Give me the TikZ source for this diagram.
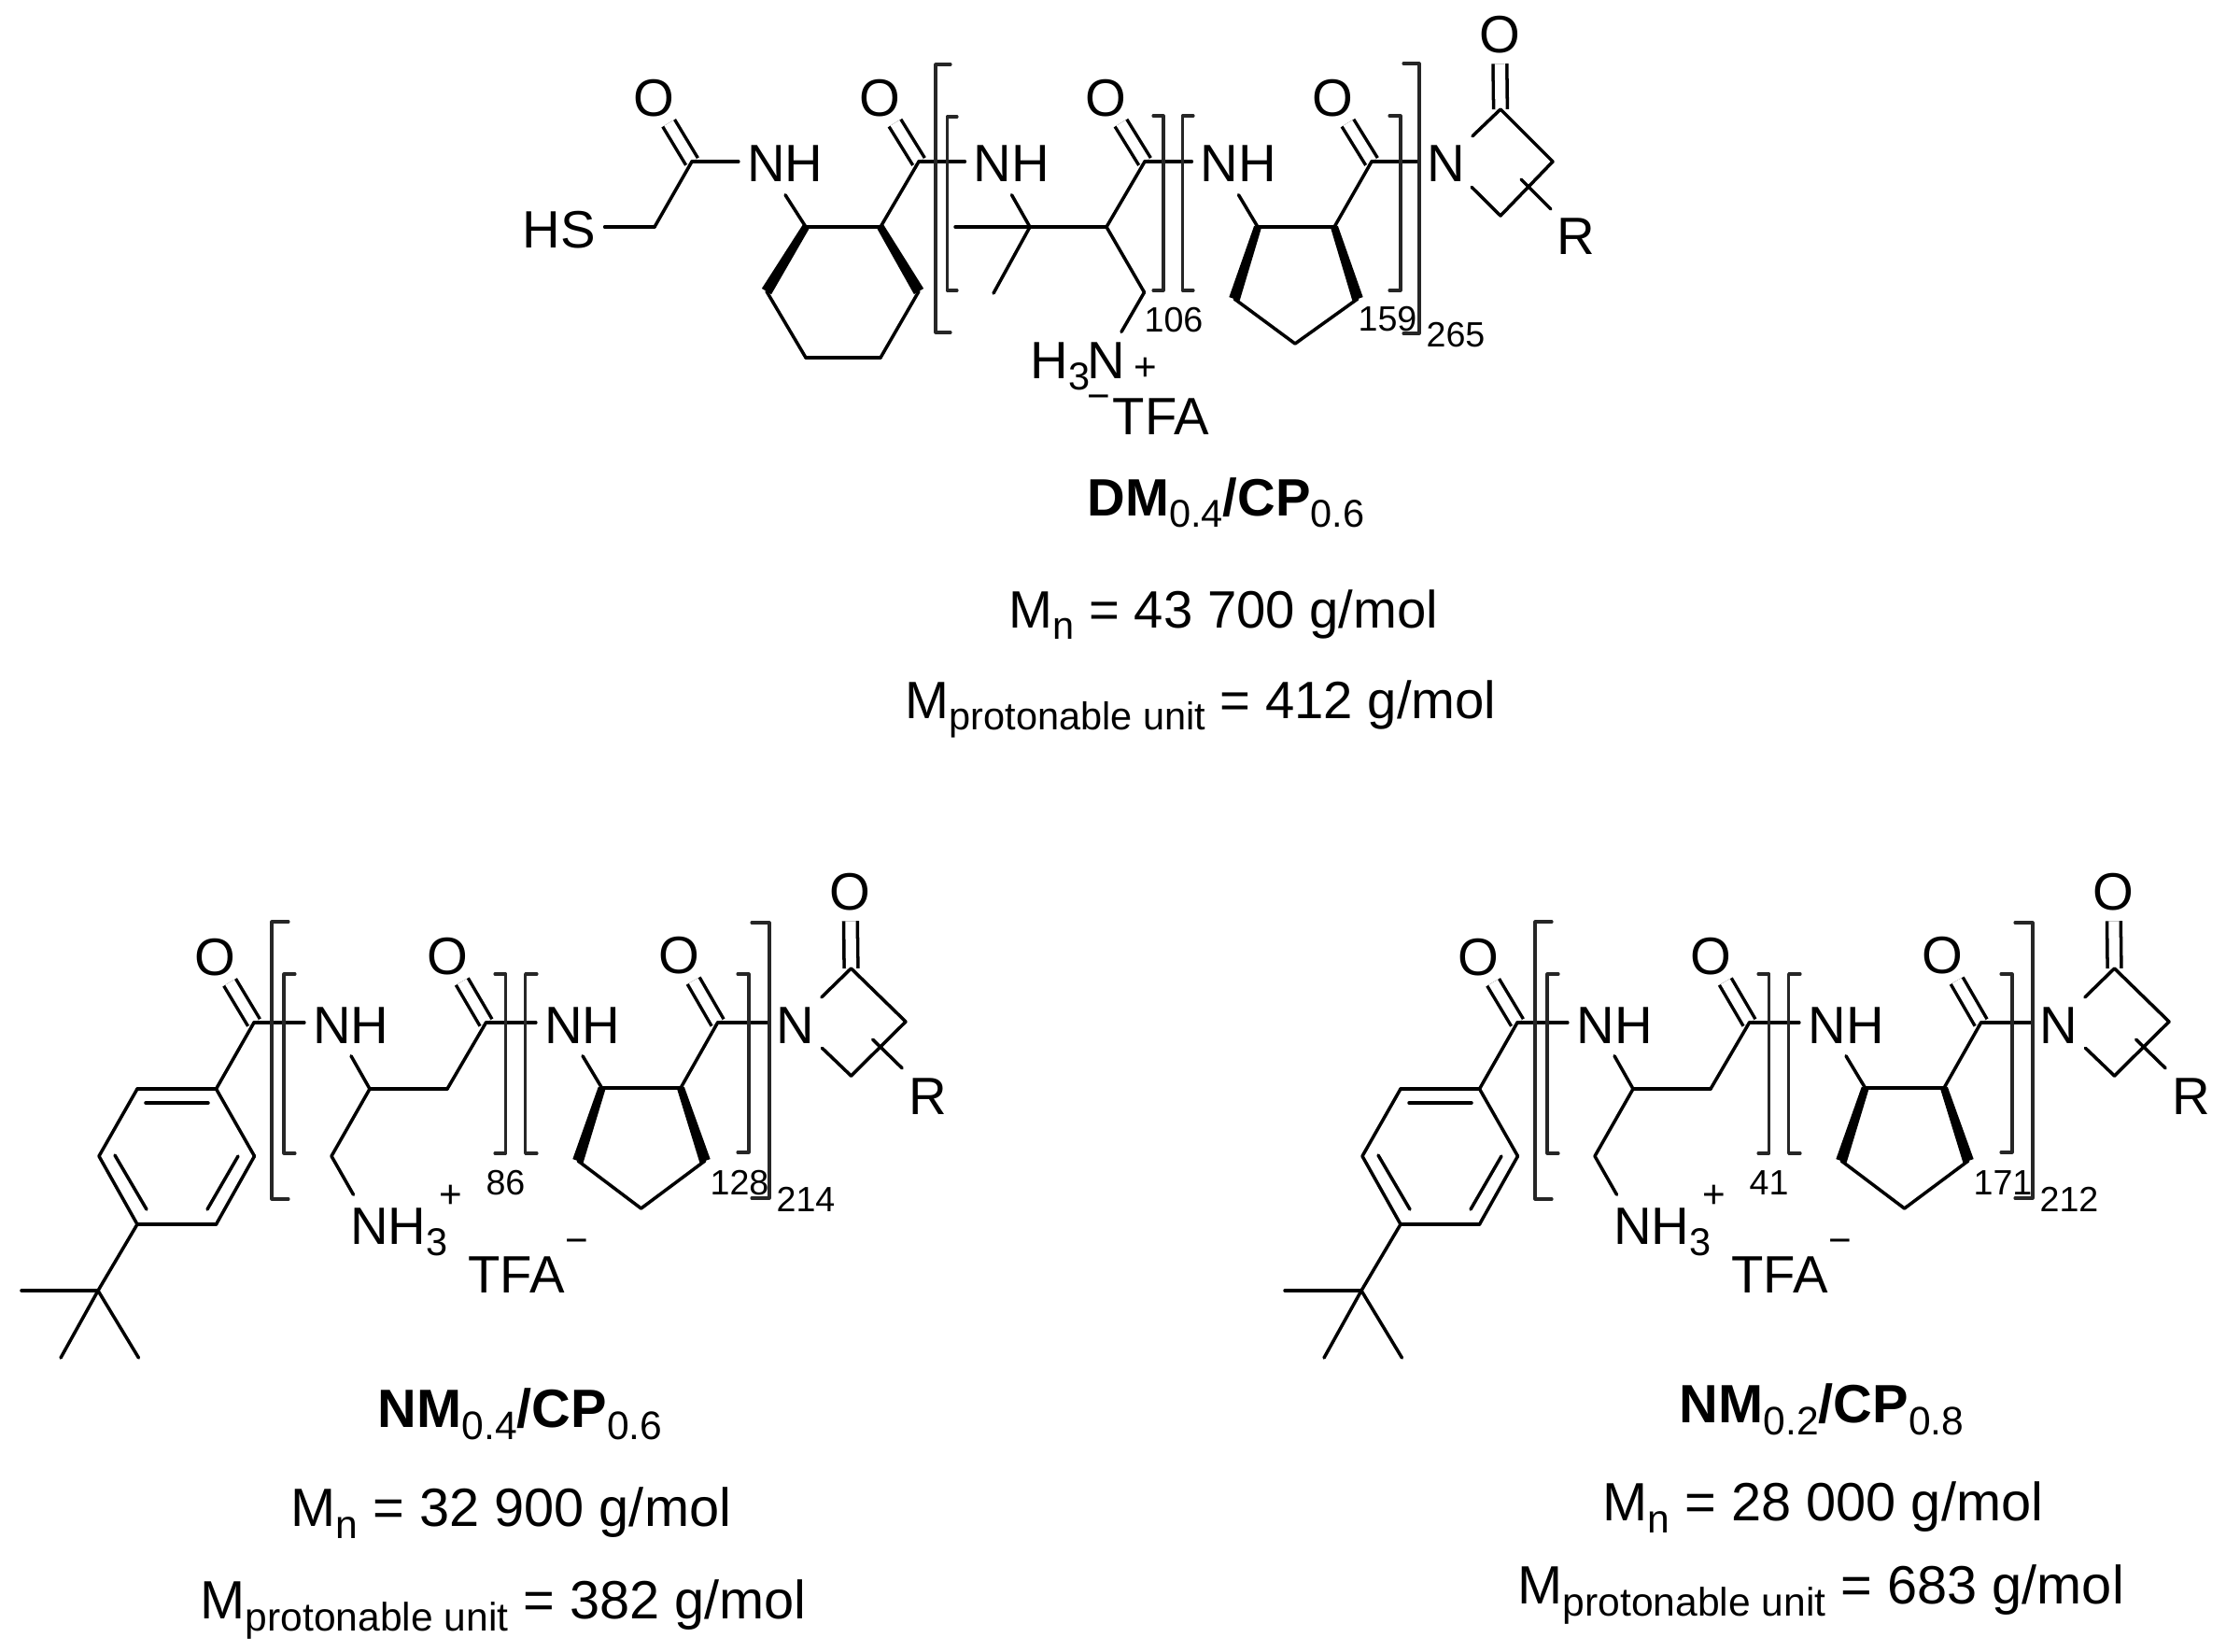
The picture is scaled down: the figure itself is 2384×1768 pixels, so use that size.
\documentclass[tikz,border=0pt]{standalone}
\usepackage{fontspec}
\usetikzlibrary{calc}
\setmainfont{Liberation Sans}
\newcommand{\lowsub}[1]{\raisebox{-3.6pt}{\fontsize{11.8pt}{12pt}\selectfont #1}}
\newcommand{\wedgebond}[2]{\fill ($(#1)!1.15pt!90:(#2)$) -- ($(#1)!1.15pt!-90:(#2)$) -- ($(#2)!1.7pt!90:(#1)$) -- ($(#2)!1.7pt!-90:(#1)$) -- cycle;}
\tikzset{
	atom/.style={font=\fontsize{16pt}{18pt}\selectfont,text height=12.5pt,text depth=0pt,inner xsep=2.2pt,inner ysep=3.4pt},
	ion/.style={atom,inner ysep=2pt},
	oxy/.style={font=\fontsize{16pt}{18pt}\selectfont,circle,minimum size=16.8pt,inner sep=0pt},
	atomtext/.style={font=\fontsize{16pt}{18pt}\selectfont,inner sep=0pt,anchor=base},
	num/.style={font=\fontsize{10.7pt}{12pt}\selectfont,inner sep=0pt},
	charge/.style={font=\fontsize{12pt}{12pt}\selectfont,inner sep=0pt},
	capline/.style={font=\fontsize{16pt}{18pt}\selectfont,inner sep=0pt,anchor=base west},
	capwide/.style={capline,scale=1.026},
	dbl/.style={double,double distance=3.2pt,line cap=butt},
	brack/.style={line width=.9pt,black!85,line join=round}
}
\begin{document}
\begin{tikzpicture}[x=0.01cm,y=-0.01cm,line width=1pt,line cap=round,line join=round]
	\useasboundingbox (0,0) rectangle (2384,1768);

	% top chain
	\foreach \n/\x/\y in {c1/741/173,ch1/701/243,a1/863/243,a2/943/243,a3/984/312,a4/943/383,a5/863/383,a6/821/312,
		c2/984/173,ch2/1103/243,me1/1023/243,me2/1064/314,ch3/1185/243,c3/1226/173,ch4/1225.5/313,
		p1/1347/243,p2/1429/243,p3/1454/320,p4/1387/368,p5/1322/320,c4/1469/173,
		lc/1607/117,l1/1663/173,l2/1607/231,lr/1629/192}{
		\coordinate (\n) at (\x,\y);
	};
	\node[atom] (hs) at (599,243) {HS};
	\node[atom] (nh1) at (841,173) {NH};
	\node[atom] (nh2) at (1083.5,173) {NH};
	\node[atom] (nh3) at (1326.5,173) {NH};
	\node[atom,inner xsep=1.9pt,inner ysep=1pt] (n2) at (1548.5,173) {N};
	\node[atom,inner xsep=1.9pt,inner ysep=1pt] (rr) at (1688,251) {R};
	\node[ion,inner ysep=1.1pt] (n1) at (1185,383) {N};
	\node[atomtext,anchor=base east] (h1) at (1169,405) {H\lowsub{3}};
	\foreach \n/\x in {o1/700,o2/942,o3/1184,o4/1427}{
		\node[oxy] (\n) at (\x,105) {O};
	};
	\node[oxy] (lo) at (1606,37) {O};

	\foreach \a/\b in {c1/o1,c2/o2,c3/o3,c4/o4,lc/lo}{
		\draw (\a) edge[dbl] (\b);
	};
	\foreach \a/\b in {hs/ch1,ch1/c1,c1/nh1.west,nh1.south/a1,a1/a2,a2/c2,a3/a4,a4/a5,a5/a6,c2/nh2.west,
		nh2.south/ch2,me1/ch2,ch2/me2,ch2/ch3,ch3/c3,ch3/ch4,ch4/n1,c3/nh3.west,nh3.south/p1,p1/p2,p2/c4,p3/p4,p4/p5,
		c4/n2.west,n2/lc,lc/l1,l1/l2,l2/n2,lr/rr}{
		\draw (\a) edge (\b);
	};
	\wedgebond{a1}{a6}
	\wedgebond{a2}{a3}
	\wedgebond{p1}{p5}
	\wedgebond{p2}{p3}

	\foreach \x/\t/\b/\e in {1002/69/356/1018,1014.5/125/311/1025,1246/124/311/1235,1266.5/124/311/1278,1500/124/311/1488,1520/68/357/1503}{
		\draw[brack] (\e,\t) -| (\x,\b) -- (\e,\b);
	};
	\node[num] (k1) at (1257,343) {106};
	\node[num] (k2) at (1486,342) {159};
	\node[num] (k3) at (1559,359) {265};
	\node[charge] (plus1) at (1227,395) {+};
	\node[charge] (minus1) at (1177,431) {−};
	\node[atomtext] (tfa1) at (1243.5,465) {TFA};

	% the two lower chains
	\foreach \m/\dx/\ka/\kb/\kc in {l/0/86/128/214,r/1353/41/171/212}{
		\begin{scope}[shift={(\dx,0)}]
			\foreach \n/\x/\y in {c1/272/1095,b1/231.5/1166,b2/147/1166,b3/106/1238,b4/147/1311,b5/231.5/1311,b6/272.5/1238,
				i1/156/1181,i2/223/1181,i3/123/1237,i4/157/1295,i5/255/1238,i6/222/1295,
				t0/105/1382,t1/23/1382,t2/65/1454,t3/148.5/1454,
				ch1/396/1166,ch2/479/1166,ch3/355/1238,c2/520.5/1095,
				p1/644.6/1165,p2/729/1165,p3/755/1243,p4/686.6/1294,p5/619/1243,c3/768.6/1095,
				lc/911.5/1037,l1/970/1094,l2/911.5/1152,lr/934.6/1113}{
				\coordinate (\n\m) at (\x,\y);
			};
			\node[atom] (nh1\m) at (376,1095) {NH};
			\node[atom] (nh2\m) at (624,1095) {NH};
			\node[atom,inner xsep=1.9pt,inner ysep=1pt] (n2\m) at (852,1095) {N};
			\node[atom,inner xsep=1.9pt,inner ysep=1pt] (rr\m) at (994,1171) {R};
			\node[ion] (n1\m) at (396,1310) {N};
			\node[atomtext,anchor=base west] (h1\m) at (414,1332) {H\lowsub{3}};
			\node[oxy] (o1\m) at (230,1025) {O};
			\node[oxy] (o2\m) at (479,1024) {O};
			\node[oxy] (o3\m) at (727,1023) {O};
			\node[oxy] (lo\m) at (910.5,955) {O};

			\foreach \a/\b in {c1/o1,c2/o2,c3/o3,lc/lo}{
				\draw (\a\m) edge[dbl] (\b\m);
			};
			\foreach \a/\b in {b1/c1,b1/b2,b2/b3,b3/b4,b4/b5,b5/b6,b6/b1,i1/i2,i3/i4,i5/i6,b4/t0,t0/t1,t0/t2,t0/t3,
				ch1/ch2,ch2/c2,ch1/ch3,ch3/n1,p1/p2,p2/c3,p3/p4,p4/p5,lc/l1,l1/l2,l2/n2,n2/lc,lr/rr}{
				\draw (\a\m) edge (\b\m);
			};
			\draw (c1\m) edge (nh1\m.west);
			\draw (nh1\m.south) edge (ch1\m);
			\draw (c2\m) edge (nh2\m.west);
			\draw (nh2\m.south) edge (p1\m);
			\draw (c3\m) edge (n2\m.west);
			\wedgebond{p1\m}{p5\m}
			\wedgebond{p2\m}{p3\m}

			\foreach \x/\t/\b/\e in {291/987/1284/309,304/1043/1235/316,541.5/1043/1235/530,562.6/1043/1235/575,802/1043/1234/790,824/988/1283/805}{
				\draw[brack] (\e,\t) -| (\x,\b) -- (\e,\b);
			};
			\node[num] (k1\m) at (541.5,1267) {\ka};
			\node[num] (k2\m) at (792,1267) {\kb};
			\node[num] (k3\m) at (863,1284) {\kc};
			\node[charge] (plus\m) at (483,1281) {+};
			\node[charge] (minus\m) at (618,1335) {−};
			\node[atomtext] (tfa\m) at (553,1384) {TFA};
		\end{scope}
	};

	% captions
	\node[capline] (name1) at (1163,552) {\textbf{DM}\lowsub{0.4}\textbf{/CP}\lowsub{0.6}};
	\node[capline] (mn1) at (1079,672) {M\lowsub{n} = 43 700 g/mol};
	\node[capline] (mp1) at (968,769) {M\lowsub{protonable unit} = 412 g/mol};
	\node[capwide] (name2) at (403,1528) {\textbf{NM}\lowsub{0.4}\textbf{/CP}\lowsub{0.6}};
	\node[capwide] (mn2) at (310,1634) {M\lowsub{n} = 32 900 g/mol};
	\node[capwide] (mp2) at (213,1733) {M\lowsub{protonable unit} = 382 g/mol};
	\node[capwide] (name3) at (1797,1523) {\textbf{NM}\lowsub{0.2}\textbf{/CP}\lowsub{0.8}};
	\node[capwide] (mn3) at (1715,1628) {M\lowsub{n} = 28 000 g/mol};
	\node[capwide] (mp3) at (1624,1717) {M\lowsub{protonable unit} = 683 g/mol};
\end{tikzpicture}
\end{document}
